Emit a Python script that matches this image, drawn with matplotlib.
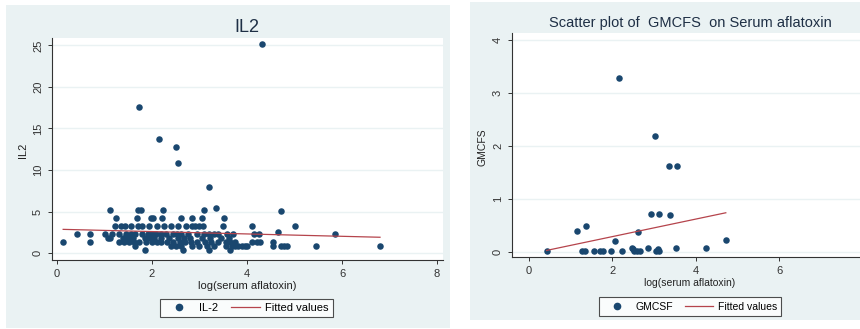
import numpy as np
import matplotlib
matplotlib.use("Agg")
import matplotlib.pyplot as plt
from matplotlib.patches import Rectangle
from matplotlib.lines import Line2D

plt.rcParams["font.family"] = ["Liberation Sans", "DejaVu Sans"]

# IL-2 vs log(serum aflatoxin), read row by row
il2_rows = {
    5.2: [1.12, 1.70, 1.77, 2.23, 3.10],
    4.2: [1.25, 1.68, 1.98, 2.03, 2.22, 2.62, 2.85, 3.05, 3.52],
    3.2: [1.22, 1.35, 1.43, 1.55, 1.70, 1.80, 1.93, 2.10, 2.25, 2.40, 2.55,
          2.72, 2.85, 2.90, 3.00, 3.08, 3.50, 4.10, 5.02],
    2.3: [0.42, 0.70, 1.02, 1.15, 1.30, 1.45, 1.55, 1.65, 1.78, 1.92, 2.00,
          2.08, 2.18, 2.30, 2.45, 2.52, 2.62, 2.75, 2.95, 3.10, 3.20, 3.30,
          3.38, 3.58, 3.70, 4.15, 4.25, 5.85],
    1.8: [1.08, 1.12, 1.38, 1.50, 1.60, 1.85, 1.95, 2.05, 2.20, 2.35, 2.55,
          2.68, 2.80, 3.05, 3.22, 3.45, 3.62],
    1.3: [0.13, 0.70, 1.30, 1.42, 1.52, 1.62, 1.72, 1.88, 2.00, 2.10, 2.20,
          2.32, 2.45, 2.58, 2.70, 2.82, 2.95, 3.12, 3.25, 3.40, 3.55, 3.65,
          3.75, 4.10, 4.20, 4.28, 4.55],
    0.8: [1.65, 2.40, 2.50, 2.62, 2.85, 3.00, 3.15, 3.30, 3.55, 3.68, 3.75,
          3.82, 3.90, 3.95, 4.00, 4.55, 4.72, 4.78, 4.85, 5.45, 6.80],
    0.4: [1.85, 2.65, 3.20, 3.65],
}
il2_extra_x = [1.72, 2.15, 2.50, 2.55, 3.20, 4.32, 3.35, 4.72, 4.65]
il2_extra_y = [17.6, 13.7, 12.8, 10.9, 8.0, 25.2, 5.4, 5.1, 2.5]
il2_fit_x = [0.13, 6.80]
il2_fit_y = [2.85, 1.90]

# GMCSF vs log(serum aflatoxin)
gm_x = [0.42, 1.14, 1.36, 1.26, 1.34, 1.55, 1.71, 1.78, 1.97, 2.06, 2.15,
        2.22, 2.46, 2.50, 2.51, 2.58, 2.66, 2.62, 2.86, 2.92, 3.02, 3.04,
        3.10, 3.11, 3.11, 3.35, 3.39, 3.52, 3.54, 4.24, 4.72]
gm_y = [0.02, 0.39, 0.49, 0.02, 0.02, 0.02, 0.02, 0.02, 0.02, 0.20, 3.28,
        0.02, 0.08, 0.06, 0.02, 0.02, 0.02, 0.38, 0.08, 0.71, 2.19, 0.02,
        0.06, 0.02, 0.71, 1.62, 0.69, 0.08, 1.62, 0.08, 0.22]
gm_fit_x = [0.42, 4.72]
gm_fit_y = [0.03, 0.74]

il2_x = [x for y, xs in il2_rows.items() for x in xs] + il2_extra_x
il2_y = [y for y, xs in il2_rows.items() for x in xs] + il2_extra_y

navy = "#1a476f"
maroon = "#b5444c"
bg = "#eaf2f3"
txt = "#1e2f45"

W, H = 860, 329
fig = plt.figure(figsize=(W / 100, H / 100), dpi=100)
fig.patch.set_facecolor("white")

def px(x0, y0, x1, y1):
    # pixel box -> figure fraction [left, bottom, width, height]
    return [x0 / W, 1 - y1 / H, (x1 - x0) / W, (y1 - y0) / H]

# panel backgrounds
for box in [(6, 5, 450, 328), (470, 2, 875, 320)]:
    l, b, w, h = px(*box)
    fig.patches.append(Rectangle((l, b), w, h, transform=fig.transFigure,
                                 facecolor=bg, edgecolor="none", zorder=-5))

def style(ax, yticks):
    ax.set_facecolor("white")
    for s in ["top", "right"]:
        ax.spines[s].set_visible(False)
    for s in ["left", "bottom"]:
        ax.spines[s].set_color("#333333")
        ax.spines[s].set_linewidth(0.8)
    ax.set_xticks([0, 2, 4, 6, 8])
    ax.set_yticks(yticks)
    ax.tick_params(labelsize=8, colors="#333333", length=3, width=0.7)
    for lab in ax.get_yticklabels():
        lab.set_rotation(90)
        lab.set_va("center")
    ax.grid(axis="y", color=bg, linewidth=1)
    ax.set_axisbelow(True)

# left panel
ax1 = fig.add_axes(px(52, 38, 443, 260))
ax1.scatter(il2_x, il2_y, s=22, color=navy, zorder=3, linewidths=0)
ax1.plot(il2_fit_x, il2_fit_y, color=maroon, lw=0.9, zorder=4)
ax1.set_xlim(-0.105, 8.126)
ax1.set_ylim(-0.84, 25.9)
style(ax1, [0, 5, 10, 15, 20, 25])
fig.text(247 / W, 1 - 28 / H, "IL2", ha="center", va="center", fontsize=13, color=txt)
fig.text(247 / W, 1 - 286 / H, "log(serum aflatoxin)", ha="center", va="center", fontsize=8, color="#222222")
fig.text(23 / W, 1 - 150 / H, "IL2", ha="center", va="center", rotation=90, fontsize=8, color="#222222")

# right panel
ax2 = fig.add_axes(px(512, 33, 875, 257))
ax2.scatter(gm_x, gm_y, s=22, color=navy, zorder=3, linewidths=0)
ax2.plot(gm_fit_x, gm_fit_y, color=maroon, lw=0.9, zorder=4)
ax2.set_xlim(-0.41, 8.3)
ax2.set_ylim(-0.094, 4.13)
style(ax2, [0, 1, 2, 3, 4])
fig.text(690 / W, 1 - 23 / H, "Scatter plot of  GMCFS  on Serum aflatoxin", ha="center", va="center",
         fontsize=10.5, color=txt)
fig.text(690 / W, 1 - 283 / H, "log(serum aflatoxin)", ha="center", va="center", fontsize=7.5, color="#222222")
fig.text(482 / W, 1 - 147 / H, "GMCFS", ha="center", va="center", rotation=90, fontsize=7.5, color="#222222")

def legend(label, cx, cy, fs):
    handles = [Line2D([], [], marker="o", ls="none", color=navy, markersize=4.5),
               Line2D([], [], color=maroon, lw=0.9)]
    leg = fig.legend(handles, [label, "Fitted values"], loc="center",
                     bbox_to_anchor=(cx / W, 1 - cy / H), ncol=2, fontsize=fs,
                     frameon=True, fancybox=False, handlelength=2.6, columnspacing=1.2,
                     borderpad=0.4, handletextpad=0.5, borderaxespad=0)
    leg.get_frame().set_edgecolor("#222222")
    leg.get_frame().set_linewidth(0.8)
    leg.get_frame().set_facecolor("white")
    return leg

legend("IL-2", 246.5, 308, 8)
legend("GMCSF", 690, 306.5, 7.5)

fig.savefig("out.png", dpi=100)
